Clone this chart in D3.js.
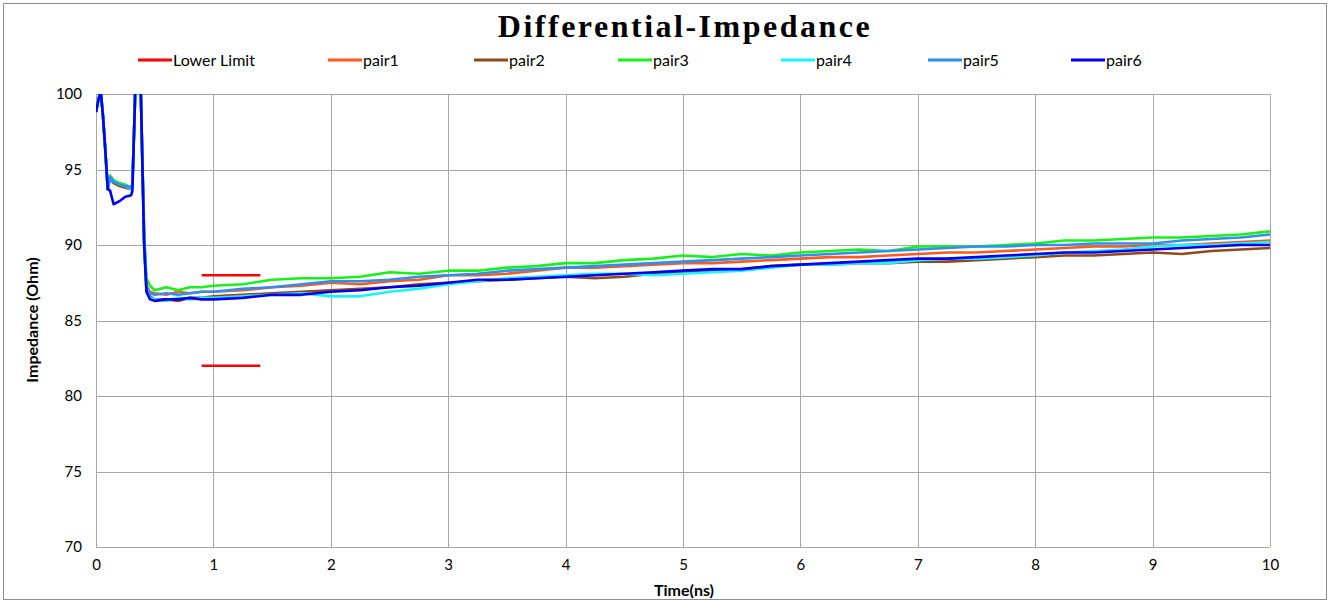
<!DOCTYPE html>
<meta charset="utf-8">
<head>
	<title>Differential-Impedance</title>
</head>

<style>

body{
	margin: 0;
	background-color: #fff;
}

svg text{
	font-family: Lato, "Open Sans", sans-serif;
}

svg text.title{
	font-family: "Liberation Serif", "DejaVu Serif", serif;
	font-weight: bold;
	letter-spacing: 2.5px;
}

.grid line{
	stroke: #a6a6a6;
	stroke-width: 1;
}

.series{
	fill: none;
	stroke-width: 2.6;
	stroke-linejoin: round;
}

</style>

<body>

<svg class="chart" width="1330" height="603"></svg>

<script src="https://cdnjs.cloudflare.com/ajax/libs/d3/7.8.5/d3.min.js"></script>
<script>

// time axis (ns), shared by all pairs
var timeNs = [
	0, 0.02, 0.04, 0.06, 0.08, 0.1, 0.12, 0.15, 0.2, 0.25, 0.3, 0.31, 0.33, 0.35, 0.37, 0.385, 0.41, 0.43, 0.46,
	0.5, 0.6, 0.7, 0.8, 0.9, 1.0,
	1.25, 1.5, 1.75, 2, 2.25, 2.5, 2.75, 3, 3.25, 3.5, 3.75, 4, 4.25, 4.5, 4.75, 5,
	5.25, 5.5, 5.75, 6, 6.25, 6.5, 6.75, 7, 7.25, 7.5, 7.75, 8, 8.25, 8.5, 8.75, 9,
	9.25, 9.5, 9.75, 10
];

var pair1 = [
	98.8, 99.6, 100.2, 98.5, 96.2, 93.7, 94.5, 94.2, 94.0, 93.9, 93.8, 94.0, 99, 106, 104, 99, 90.5, 87.3, 86.9,
	86.8, 86.7, 86.9, 86.8, 86.9, 86.9,
	87.0, 87.2, 87.3, 87.5, 87.4, 87.6, 87.7, 88.0, 88.0, 88.1, 88.3, 88.5, 88.5, 88.6, 88.7, 88.8,
	88.8, 88.9, 89.0, 89.1, 89.2, 89.2, 89.3, 89.4, 89.5, 89.5, 89.6, 89.7, 89.8, 89.9, 89.9, 90.0,
	90.0, 90.1, 90.2, 90.3
];

var pair2 = [
	98.8, 99.6, 100.2, 98.5, 96.2, 93.7, 94.4, 94.1, 93.9, 93.8, 93.7, 93.9, 99, 106, 104, 99, 90.2, 87.0, 86.6,
	86.4, 86.4, 86.3, 86.5, 86.5, 86.6,
	86.7, 86.8, 86.9, 87.0, 87.1, 87.2, 87.4, 87.5, 87.6, 87.7, 87.8, 87.9, 87.8, 87.9, 88.1, 88.2,
	88.3, 88.4, 88.6, 88.7, 88.7, 88.8, 88.8, 88.9, 88.9, 89.0, 89.1, 89.2, 89.3, 89.3, 89.4, 89.5,
	89.4, 89.6, 89.7, 89.8
];

var pair3 = [
	98.8, 99.6, 100.2, 98.5, 96.2, 93.8, 94.6, 94.3, 94.1, 94.0, 93.8, 94.1, 99, 106, 104, 99, 91.0, 87.8, 87.3,
	87.0, 87.2, 87.0, 87.2, 87.2, 87.3,
	87.4, 87.7, 87.8, 87.8, 87.9, 88.2, 88.1, 88.3, 88.3, 88.5, 88.6, 88.8, 88.8, 89.0, 89.1, 89.3,
	89.2, 89.4, 89.3, 89.5, 89.6, 89.7, 89.6, 89.9, 89.9, 89.9, 90.0, 90.1, 90.3, 90.3, 90.4, 90.5,
	90.5, 90.6, 90.7, 90.9
];

var pair4 = [
	98.8, 99.6, 100.2, 98.5, 96.2, 93.7, 94.5, 94.2, 94.0, 93.9, 93.7, 94.0, 99, 106, 104, 99, 90.0, 86.9, 86.5,
	86.4, 86.3, 86.5, 86.4, 86.5, 86.5,
	86.6, 86.7, 86.8, 86.6, 86.6, 86.9, 87.1, 87.4, 87.6, 87.8, 87.9, 88.0, 88.1, 88.1, 88.0, 88.1,
	88.2, 88.3, 88.5, 88.7, 88.7, 88.8, 88.8, 89.0, 89.1, 89.1, 89.2, 89.3, 89.5, 89.6, 89.7, 89.9,
	90.0, 90.0, 90.1, 90.2
];

var pair5 = [
	98.8, 99.6, 100.2, 98.5, 96.2, 93.7, 94.5, 94.2, 94.0, 93.9, 93.8, 94.0, 99, 106, 104, 99, 90.4, 87.2, 86.8,
	86.7, 86.8, 86.7, 86.8, 86.9, 86.9,
	87.1, 87.2, 87.4, 87.6, 87.6, 87.7, 87.9, 88.0, 88.1, 88.3, 88.4, 88.5, 88.6, 88.7, 88.8, 88.9,
	89.0, 89.1, 89.2, 89.3, 89.4, 89.5, 89.6, 89.7, 89.8, 89.9, 89.9, 90.0, 90.0, 90.1, 90.1, 90.1,
	90.3, 90.4, 90.5, 90.7
];

var pair6 = [
	98.8, 99.6, 100.2, 98.5, 96.2, 93.7, 93.6, 92.7, 92.9, 93.2, 93.3, 93.6, 99, 106, 104, 99, 90.0, 86.9, 86.4,
	86.3, 86.4, 86.4, 86.5, 86.4, 86.4,
	86.5, 86.7, 86.7, 86.9, 87.0, 87.2, 87.3, 87.5, 87.7, 87.7, 87.8, 87.9, 88.0, 88.1, 88.2, 88.3,
	88.4, 88.4, 88.6, 88.7, 88.8, 88.9, 89.0, 89.1, 89.1, 89.2, 89.3, 89.4, 89.5, 89.5, 89.6, 89.7,
	89.8, 89.9, 90.0, 90.0
];

// limit markers (null = gap between the two segments)
var limitTime = [0.9, 1.4, null, 0.9, 1.4];
var limitValue = [88, 88, null, 82, 82];

var seriesNames = ['Lower Limit', 'pair1', 'pair2', 'pair3', 'pair4', 'pair5', 'pair6'];
var seriesColors = ['#ff0000', '#ff5a1e', '#8f4a1c', '#19f019', '#19f5ff', '#2e8ff0', '#0000f0'];

var xTicks = [0, 1, 2, 3, 4, 5, 6, 7, 8, 9, 10];
var yTicks = [70, 75, 80, 85, 90, 95, 100];

// build point lists from the arrays
function zip(t, v){
	return t.map(function(d, i){
		return (d === null || v[i] === null) ? null : [d, v[i]];
	});
}

var seriesData = [
	zip(limitTime, limitValue),
	zip(timeNs, pair1),
	zip(timeNs, pair2),
	zip(timeNs, pair3),
	zip(timeNs, pair4),
	zip(timeNs, pair5),
	zip(timeNs, pair6)
];

var svg = d3.select('.chart');

var plot = {left: 96, right: 1270, top: 94, bottom: 547};

var x = d3.scaleLinear().domain([0, 10]).range([plot.left, plot.right]);
var y = d3.scaleLinear().domain([70, 100]).range([plot.bottom, plot.top]);

// outer frame
svg.append('rect')
	.attr('x', 3.5)
	.attr('y', 3.5)
	.attr('width', 1323)
	.attr('height', 596)
	.attr('fill', '#fff')
	.attr('stroke', '#8c8c8c')
	.attr('stroke-width', 1);

// grid
var grid = svg.append('g').attr('class', 'grid');

grid.selectAll('.gx')
	.data(xTicks)
	.enter()
	.append('line')
	.attr('x1', function(d){ return Math.round(x(d)) + 0.5; })
	.attr('x2', function(d){ return Math.round(x(d)) + 0.5; })
	.attr('y1', plot.top)
	.attr('y2', plot.bottom);

grid.selectAll('.gy')
	.data(yTicks)
	.enter()
	.append('line')
	.attr('x1', plot.left)
	.attr('x2', plot.right)
	.attr('y1', function(d){ return Math.round(y(d)) + 0.5; })
	.attr('y2', function(d){ return Math.round(y(d)) + 0.5; });

// axes (labels only, lines come from the grid)
var xAxis = svg.append('g')
	.attr('transform', 'translate(0,' + (plot.bottom + 9) + ')')
	.call(d3.axisBottom(x).tickValues(xTicks).tickSize(0).tickPadding(3));

var yAxis = svg.append('g')
	.attr('transform', 'translate(' + (plot.left - 11) + ',0)')
	.call(d3.axisLeft(y).tickValues(yTicks).tickSize(0).tickPadding(3));

[xAxis, yAxis].forEach(function(a){
	a.select('.domain').remove();
	a.selectAll('text')
		.attr('font-size', 15)
		.attr('fill', '#000');
});

// series
svg.append('clipPath')
	.attr('id', 'plotClip')
	.append('rect')
	.attr('x', plot.left)
	.attr('y', plot.top)
	.attr('width', plot.right - plot.left)
	.attr('height', plot.bottom - plot.top);

var lineGenerator = d3.line()
	.defined(function(d){ return d !== null; })
	.x(function(d){ return x(d[0]); })
	.y(function(d){ return y(d[1]); });

svg.append('g')
	.attr('clip-path', 'url(#plotClip)')
	.selectAll('path')
	.data(seriesData)
	.enter()
	.append('path')
	.attr('class', 'series')
	.attr('stroke', function(d, i){ return seriesColors[i]; })
	.attr('d', lineGenerator);

// title
svg.append('text')
	.attr('class', 'title')
	.attr('x', 685)
	.attr('y', 37)
	.attr('text-anchor', 'middle')
	.attr('font-size', 32)
	.text('Differential-Impedance');

// legend
var legendX = [138, 328, 474, 618, 781, 928, 1071];

var legend = svg.selectAll('.legend')
	.data(seriesNames)
	.enter()
	.append('g')
	.attr('transform', function(d, i){ return 'translate(' + legendX[i] + ',60)'; });

legend.append('line')
	.attr('x1', 0)
	.attr('x2', 34)
	.attr('stroke', function(d, i){ return seriesColors[i]; })
	.attr('stroke-width', 3);

legend.append('text')
	.attr('x', 35)
	.attr('y', 6)
	.attr('font-size', 16)
	.text(function(d){ return d; });

// axis titles
svg.append('text')
	.attr('x', 684)
	.attr('y', 596)
	.attr('text-anchor', 'middle')
	.attr('font-weight', 'bold')
	.attr('font-size', 16)
	.text('Time(ns)');

svg.append('text')
	.attr('transform', 'translate(38,320) rotate(-90)')
	.attr('text-anchor', 'middle')
	.attr('font-weight', 'bold')
	.attr('font-size', 16)
	.text('Impedance (Ohm)');

</script>

</body>
</html>
